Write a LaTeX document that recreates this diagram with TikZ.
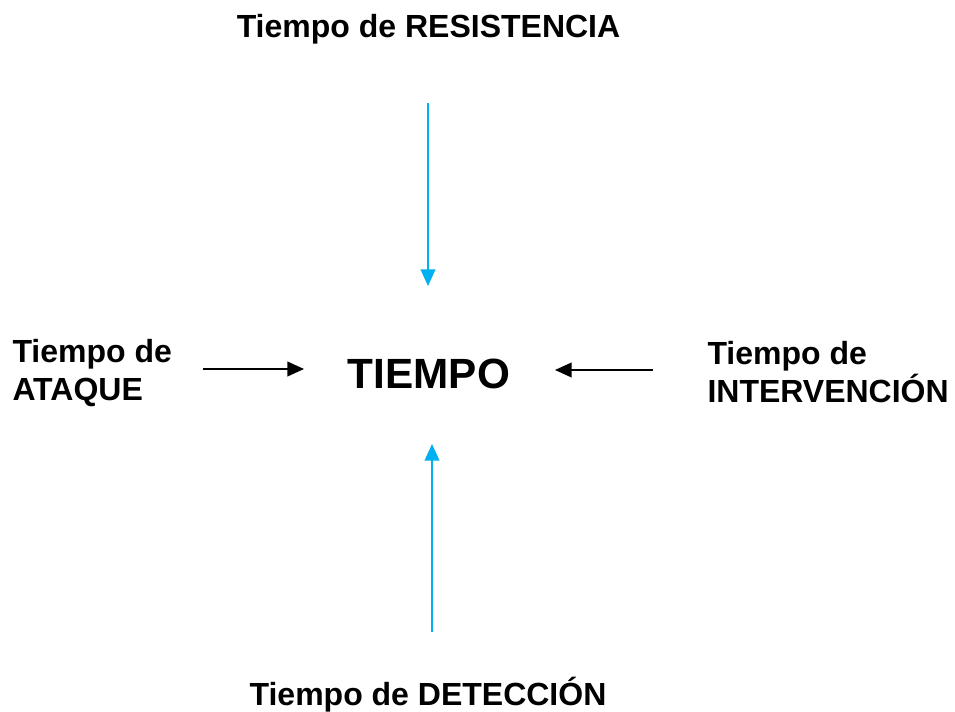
\documentclass[tikz,border=0pt]{standalone}
\usepackage{fontspec}
\setmainfont{Liberation Sans}
\usetikzlibrary{arrows.meta}

\definecolor{flecha}{RGB}{0,176,240}

\tikzset{every picture/.style={line width=0.75pt}}
\tikzset{
  rotulo/.style={inner sep=0pt, font=\bfseries\fontsize{24}{29}\selectfont},
  flechas/.style={line width=1.5pt, -{Triangle[length=12.5pt,width=11pt]}}
}

\begin{document}
\begin{tikzpicture}[x=0.75pt,y=0.75pt,yscale=-1,xscale=1]
\useasboundingbox (0,0) rectangle (955,712);

% Text Node
\node (tiempo) [anchor=base, inner sep=0pt, font=\bfseries\fontsize{31.7}{36}\selectfont] at (429,388) {TIEMPO};
% Text Node
\node (resist) [rotulo, anchor=base] at (428.5,38) {Tiempo de RESISTENCIA};
% Text Node
\node (detec) [rotulo, anchor=base] at (428,705) {Tiempo de DETECCIÓN};
% Text Node
\node (ataque) [rotulo, anchor=west, align=left] at (12,373) {Tiempo de\\ATAQUE};
% Text Node
\node (interv) [rotulo, anchor=west, align=left] at (707,372) {Tiempo de\\INTERVENCIÓN};

% end points
\coordinate (r1) at (428,103);
\coordinate (r2) at (428,286);
\coordinate (d1) at (432,632);
\coordinate (d2) at (432,444);
\coordinate (a1) at (203,369);
\coordinate (a2) at (304,369);
\coordinate (i1) at (653,370);
\coordinate (i2) at (555,370);

%Straight Lines
\draw [flechas, color=flecha] (r1) -- (r2);
%Straight Lines
\draw [flechas, color=flecha] (d1) -- (d2);
%Straight Lines
\draw [flechas] (a1) -- (a2);
%Straight Lines
\draw [flechas] (i1) -- (i2);

\end{tikzpicture}
\end{document}
